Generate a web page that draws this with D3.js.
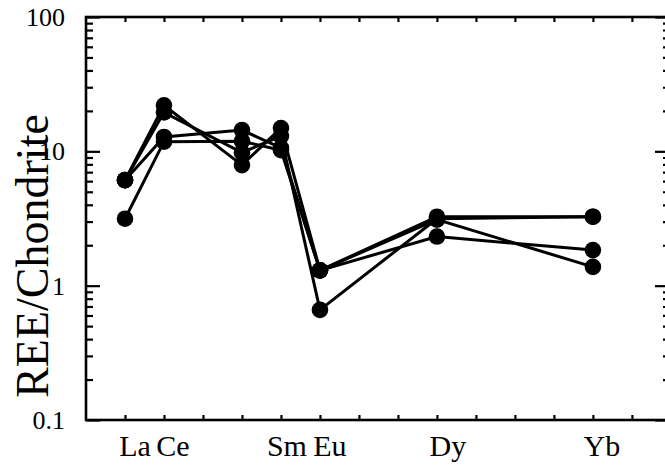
<!DOCTYPE html>
<html>
<head>
<meta charset="utf-8">
<script src="https://cdn.jsdelivr.net/npm/d3@7"></script>
</head>
<body style="margin:0">
<svg id="chart" width="665" height="466"></svg>
<script>
// ---- data ----
const elements = ["La","Ce","Pr","Nd","Sm","Eu","Gd","Tb","Dy","Ho","Er","Tm","Yb","Lu"];
const labeledElements = ["La","Ce","Sm","Eu","Dy","Yb"];
const labelShift = [10, 9, 6, 10, 11, 9];
const measured = ["La","Ce","Nd","Sm","Eu","Dy","Yb"];
const sampleA = [6.1, 22.0, 7.9, 14.9, 1.30, 3.26, 3.26];
const sampleB = [6.1, 19.5, 9.8, 13.0, 0.66, 3.15, 3.26];
const sampleC = [6.1, 12.8, 14.4, 10.6, 1.30, 3.10, 1.38];
const sampleD = [3.15, 11.8, 11.9, 10.2, 1.30, 2.32, 1.84];
const samples = [sampleA, sampleB, sampleC, sampleD];
const yMajor = [0.1, 1, 10, 100];
const yMajorLabels = ["0.1", "1", "10", "100"];
const yTitle = "REE/Chondrite";

// ---- layout ----
const svg = d3.select("#chart");
const L = 86, R = 667, T = 17, B = 420;
const x = d3.scaleLinear().domain([0, 14.9]).range([L, R]);
const y = d3.scaleLog().domain([0.1, 100]).range([B, T]);
const pos = e => elements.indexOf(e) + 1;

const yMinor = [];
[0.1, 1, 10].forEach(d => { for (let k = 2; k <= 9; k++) yMinor.push(+(d * k).toPrecision(2)); });
const xTicks = elements.map((e, i) => i + 1);

// data lines and points
const line = d3.line().x((d, i) => x(pos(measured[i]))).y(d => y(d));
const gd = svg.append("g");
gd.selectAll("path.s").data(samples).join("path").attr("class", "s")
  .attr("d", line).attr("fill", "none").attr("stroke", "#000").attr("stroke-width", 3);
samples.forEach(s => {
  gd.append("g").selectAll("circle").data(s).join("circle")
    .attr("cx", (d, i) => x(pos(measured[i]))).attr("cy", d => y(d))
    .attr("r", 8.3).attr("fill", "#000");
});

// tick marks (inward) via axes, no labels
function ticks(gen, tx, ty) {
  const g = svg.append("g").attr("transform", `translate(${tx},${ty})`);
  g.call(gen);
  g.select(".domain").remove();
  g.selectAll(".tick text").remove();
  g.selectAll(".tick line").attr("stroke", "#000").attr("stroke-width", 2.2);
}
ticks(d3.axisLeft(y).tickValues(yMajor).tickSize(-14), L, 0);
ticks(d3.axisLeft(y).tickValues(yMinor).tickSize(-7), L, 0);
ticks(d3.axisRight(y).tickValues(yMajor).tickSize(-12), R, 0);
ticks(d3.axisRight(y).tickValues(yMinor).tickSize(-4), R, 0);
ticks(d3.axisBottom(x).tickValues(xTicks).tickSize(-5), 0, B);
ticks(d3.axisTop(x).tickValues(xTicks).tickSize(-5), 0, T);

// frame
svg.append("rect").attr("x", L).attr("y", T).attr("width", R - L).attr("height", B - T)
  .attr("fill", "none").attr("stroke", "#000").attr("stroke-width", 2.6);

// y tick labels (from the scale)
svg.append("g").selectAll("text").data(yMajor).join("text")
  .attr("x", L - 21).attr("y", d => y(d)).attr("dy", "0.35em")
  .attr("text-anchor", "end")
  .attr("font-family", "\"Times New Roman\"").attr("font-size", 26)
  .text((d, i) => yMajorLabels[i]);

// x labels
svg.append("g").selectAll("text").data(labeledElements).join("text")
  .attr("x", (d, i) => x(pos(d)) + labelShift[i]).attr("y", 456)
  .attr("text-anchor", "middle")
  .attr("font-family", "\"Times New Roman\"").attr("font-size", 30)
  .text(d => d);

// y title
svg.append("text")
  .attr("transform", "translate(48,256) rotate(-90)")
  .attr("text-anchor", "middle")
  .attr("font-family", "\"Times New Roman\"").attr("font-size", 46)
  .text(yTitle);
</script>
</body>
</html>
